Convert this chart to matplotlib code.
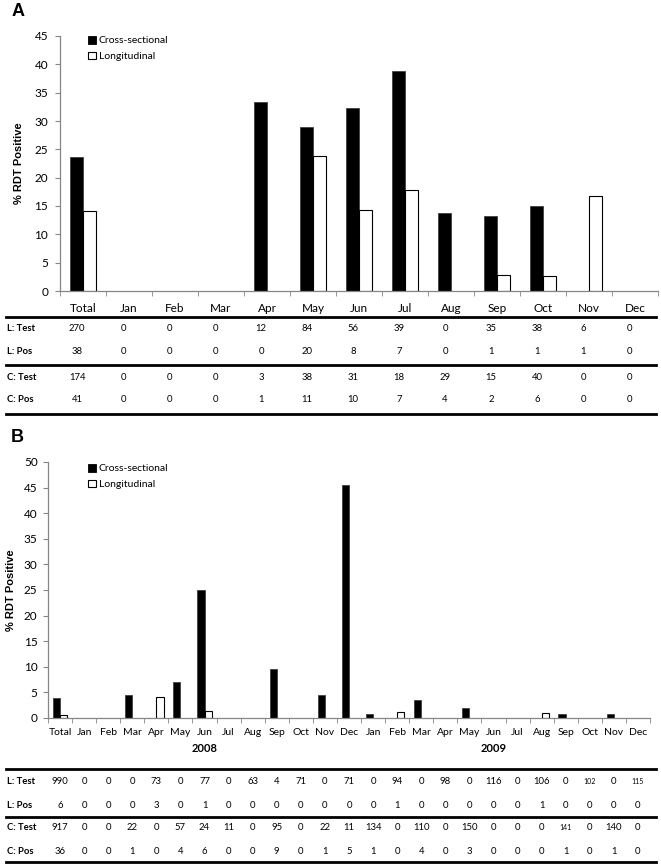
import matplotlib
matplotlib.use('Agg')
import matplotlib.pyplot as plt
import matplotlib.transforms as mtransforms
from matplotlib.lines import Line2D
from matplotlib.patches import Patch
import numpy as np

plt.rcParams['font.family'] = ['Lato', 'DejaVu Sans']

# panel A data
months = ['Jan', 'Feb', 'Mar', 'Apr', 'May', 'Jun', 'Jul', 'Aug', 'Sep', 'Oct', 'Nov', 'Dec']
cats_a = ['Total'] + months
cross_a = [23.6, 0, 0, 0, 33.3, 28.9, 32.3, 38.9, 13.8, 13.3, 15.0, 0, 0]
long_a = [14.1, 0, 0, 0, 0, 23.8, 14.3, 17.9, 0, 2.9, 2.6, 16.7, 0]
l_test_a = [270, 0, 0, 0, 12, 84, 56, 39, 0, 35, 38, 6, 0]
l_pos_a = [38, 0, 0, 0, 0, 20, 8, 7, 0, 1, 1, 1, 0]
c_test_a = [174, 0, 0, 0, 3, 38, 31, 18, 29, 15, 40, 0, 0]
c_pos_a = [41, 0, 0, 0, 1, 11, 10, 7, 4, 2, 6, 0, 0]

# panel B data
cats_b = ['Total'] + months + months
years_b = ['2008', '2009']
cross_b = [3.9, 0, 0, 4.5, 0, 7.0, 25.0, 0, 0, 9.5, 0, 4.5, 45.5,
           0.7, 0, 3.6, 0, 2.0, 0, 0, 0, 0.7, 0, 0.7, 0]
long_b = [0.6, 0, 0, 0, 4.1, 0, 1.3, 0, 0, 0, 0, 0, 0,
          0, 1.1, 0, 0, 0, 0, 0, 0.9, 0, 0, 0, 0]
l_test_b = [990, 0, 0, 0, 73, 0, 77, 0, 63, 4, 71, 0, 71,
            0, 94, 0, 98, 0, 116, 0, 106, 0, 102, 0, 115]
l_pos_b = [6, 0, 0, 0, 3, 0, 1, 0, 0, 0, 0, 0, 0,
           0, 1, 0, 0, 0, 0, 0, 1, 0, 0, 0, 0]
c_test_b = [917, 0, 0, 22, 0, 57, 24, 11, 0, 95, 0, 22, 11,
            134, 0, 110, 0, 150, 0, 0, 0, 141, 0, 140, 0]
c_pos_b = [36, 0, 0, 1, 0, 4, 6, 0, 0, 9, 0, 1, 5,
           1, 0, 4, 0, 3, 0, 0, 0, 1, 0, 1, 0]
row_names = ['L: Test', 'L: Pos', 'C: Test', 'C: Pos']
# cells printed in a smaller font in the original table
small_cells_b = {(0, 22), (0, 24), (2, 21)}

W, H = 661, 866
AXIS_GREY = '#868686'


def fy(py):
    return 1 - py / H


def fx(px):
    return px / W


def draw_panel(fig, rect, cats, cross, longi, ymax, width, tick_fs, xlab_fs):
    ax = fig.add_axes(rect)
    x = np.arange(len(cats))
    cross = np.array(cross, dtype=float)
    longi = np.array(longi, dtype=float)
    # empty months show no bar at all
    mc = cross > 0
    ml = longi > 0
    ax.bar(x[mc] - width / 2, cross[mc], width, color='black', edgecolor='#404040', lw=0.6)
    ax.bar(x[ml] + width / 2, longi[ml], width, color='white', edgecolor='black', lw=0.8)
    ax.set_xlim(-0.5, len(cats) - 0.5)
    ax.set_ylim(0, ymax)
    ax.set_yticks(np.arange(0, ymax + 1, 5))
    ax.set_xticks(x)
    ax.set_xticklabels(cats, fontsize=xlab_fs)
    ax.set_xticks(np.arange(-0.5, len(cats)), minor=True)
    ax.tick_params(axis='x', which='major', length=0, pad=9)
    ax.tick_params(axis='x', which='minor', length=3.5, color=AXIS_GREY, direction='out')
    ax.tick_params(axis='y', length=3.5, color=AXIS_GREY, labelsize=tick_fs, pad=5)
    for s in ['top', 'right']:
        ax.spines[s].set_visible(False)
    for s in ['left', 'bottom']:
        ax.spines[s].set_color(AXIS_GREY)
        ax.spines[s].set_linewidth(0.9)
    ax.set_ylabel('% RDT Positive', family='Liberation Sans', fontweight='bold', fontsize=8)
    handles = [Patch(facecolor='black', edgecolor='black', lw=0.6),
               Patch(facecolor='white', edgecolor='black', lw=0.8)]
    return ax, handles


def draw_table(fig, ax, rows, ys, xoff, label_x, fs, small=()):
    trans = mtransforms.blended_transform_factory(ax.transData, fig.transFigure)
    for r, (vals, y) in enumerate(zip(rows, ys)):
        fig.text(fx(label_x), fy(y), row_names[r], fontsize=fs, fontweight='bold',
                 ha='left', va='center')
        for i, v in enumerate(vals):
            size = fs - 1.8 if (r, i) in small else fs
            ax.text(i + xoff, fy(y), str(v), transform=trans, fontsize=size,
                    ha='center', va='center', clip_on=False)


def hline(fig, py):
    fig.add_artist(Line2D([fx(6), fx(656)], [fy(py), fy(py)], transform=fig.transFigure,
                          color='black', lw=2))


fig = plt.figure(figsize=(W / 100, H / 100), dpi=100)

# ---- panel A
rect_a = [fx(60), fy(291), fx(658) - fx(60), fy(36) - fy(291)]
ax_a, handles = draw_panel(fig, rect_a, cats_a, cross_a, long_a, 45, 0.28, 8.5, 8.5)
ax_a.yaxis.set_label_coords(-(60 - 24) / (658 - 60), 0.5)
ax_a.legend(handles, ['Cross-sectional', 'Longitudinal'], loc='upper left',
            bbox_to_anchor=(fx(88), fy(36)), bbox_transform=fig.transFigure,
            frameon=False, fontsize=7.5, handlelength=0.75, handleheight=0.75,
            handletextpad=0.3, labelspacing=0.6, borderpad=0, borderaxespad=0)
fig.text(fx(18), fy(12), 'A', family='Liberation Sans', fontweight='bold',
         fontsize=13, ha='center', va='center')

for py in (317, 365, 414):
    hline(fig, py)
draw_table(fig, ax_a, [l_test_a, l_pos_a, c_test_a, c_pos_a], [329, 352, 377, 400],
           -0.13, 7, 6.8)

# ---- panel B
rect_b = [fx(48), fy(718), fx(650) - fx(48), fy(462) - fy(718)]
ax_b, handles = draw_panel(fig, rect_b, cats_b, cross_b, long_b, 50, 0.3, 8.5, 7.5)
ax_b.tick_params(axis='x', which='major', pad=7)
ax_b.tick_params(axis='y', pad=4)
ax_b.yaxis.set_label_coords(-(48 - 16) / (650 - 48), 0.5)
ax_b.legend(handles, ['Cross-sectional', 'Longitudinal'], loc='upper left',
            bbox_to_anchor=(fx(88), fy(464)), bbox_transform=fig.transFigure,
            frameon=False, fontsize=7.5, handlelength=0.75, handleheight=0.75,
            handletextpad=0.3, labelspacing=0.6, borderpad=0, borderaxespad=0)
fig.text(fx(17), fy(438), 'B', family='Liberation Sans', fontweight='bold',
         fontsize=13, ha='center', va='center')

trans_b = mtransforms.blended_transform_factory(ax_b.transData, fig.transFigure)
for k, yr in enumerate(years_b):
    ax_b.text(6 + 12 * k, fy(749), yr, transform=trans_b, fontsize=8, fontweight='bold',
              ha='center', va='center')

for py in (769, 817, 862):
    hline(fig, py)
draw_table(fig, ax_b, [l_test_b, l_pos_b, c_test_b, c_pos_b], [782, 805, 828, 852],
           0, 7, 6.8, small_cells_b)

fig.savefig('out.png', dpi=100)
